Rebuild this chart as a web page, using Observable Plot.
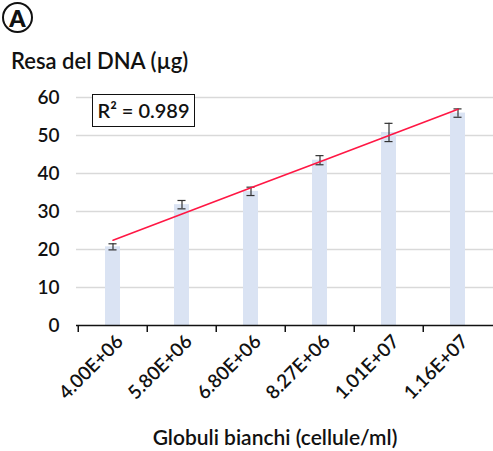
<!DOCTYPE html>
<html><head><meta charset="utf-8">
<script src="https://cdn.jsdelivr.net/npm/d3@7"></script>
<script src="https://cdn.jsdelivr.net/npm/@observablehq/plot@0.6"></script>
<style>
body{margin:0;background:#fff;font-family:Lato,"Noto Sans",sans-serif;}
#wrap{position:relative;width:493px;height:451px;overflow:hidden;}
.abs{position:absolute;color:#111;white-space:nowrap;}
</style></head>
<body><div id="wrap"></div>
<script>
const categories = ["4.00E+06","5.80E+06","6.80E+06","8.27E+06","1.01E+07","1.16E+07"];
const yields = [20.7, 31.8, 35.3, 43.5, 50.8, 55.9];
const errors = [0.8, 1.1, 1.1, 1.2, 2.4, 1.1];
const yTicks = [0,10,20,30,40,50,60];
const r2Label = "R² = 0.989";

const data = categories.map((c,i)=>({c, v:yields[i], e:errors[i], i:i+1}));
// least-squares trend on category index
const n = data.length;
const mx = d3.mean(data, d=>d.i), my = d3.mean(data, d=>d.v);
const slope = d3.sum(data, d=>(d.i-mx)*(d.v-my)) / d3.sum(data, d=>(d.i-mx)**2);
const trend = data.map(d=>({c:d.c, t: my + slope*(d.i-mx)}));

const W = 493, ML = 76, MR = 0;
const P = 0.785;
const step = (W-ML-MR)/n;
const bw = step*(1-P);
const capW = 8;

const chart = Plot.plot({
  width: W, height: 340,
  marginLeft: ML, marginRight: MR, marginTop: 17, marginBottom: 95,
  style: {fontFamily: "Lato, sans-serif", fontSize: "16px", color:"#111", overflow:"visible"},
  x: {domain: categories, paddingInner: P, paddingOuter: P/2, align: 0.5, label: null},
  y: {domain: [0,60], label: null},
  marks: [
    Plot.gridY(yTicks.filter(t=>t>0), {stroke:"#d9d9d9", strokeOpacity:1, strokeWidth:1.5}),
    Plot.barY(data, {x:"c", y:"v", fill:"#dae3f3"}),
    Plot.ruleX(data, {x:"c", y1: d=>d.v-d.e, y2: d=>d.v+d.e, stroke:"#333", strokeWidth:1.2}),
    Plot.tickY(data, {x:"c", y: d=>d.v+d.e, stroke:"#333", strokeWidth:1.2, insetLeft:(bw-capW)/2, insetRight:(bw-capW)/2}),
    Plot.tickY(data, {x:"c", y: d=>d.v-d.e, stroke:"#333", strokeWidth:1.2, insetLeft:(bw-capW)/2, insetRight:(bw-capW)/2}),
    Plot.line(trend, {x:"c", y:"t", stroke:"#ff1744", strokeWidth:1.6}),
    Plot.ruleY([0], {stroke:"#111", strokeWidth:1.5}),
    Plot.axisX({ticks: categories, tickSize:7, dx: -step/2, text: null, stroke:"#111", strokeWidth:1.5}),
    Plot.axisX({ticks: categories, tickSize:0, tickRotate:-45, tickPadding:13, dx: 7, fontSize:19, fontWeight:600}),
    Plot.axisY({ticks: yTicks, tickSize:0, tickPadding:17, fontSize:19, fontWeight:600})
  ]
});
chart.style.position = "absolute";
chart.style.left = "0px";
chart.style.top = "80px";
const wrap = document.getElementById("wrap");
wrap.appendChild(chart);

function add(html, css){ const d=document.createElement("div"); d.className="abs"; d.innerHTML=html; Object.assign(d.style, css); wrap.appendChild(d); return d;}
add("A", {left:"2px", top:"2px", width:"27px", height:"27px", border:"2.5px solid #111", borderRadius:"50%", textAlign:"center", lineHeight:"28px", fontSize:"23px", fontWeight:"800"});
add("Resa del DNA (µg)", {left:"11px", top:"47px", fontSize:"22px", fontWeight:"600"});
add(r2Label, {left:"92px", top:"94px", width:"101px", height:"31px", border:"1.5px solid #111", background:"#fff", textAlign:"center", lineHeight:"31px", fontSize:"20px", fontWeight:"600"});
add("Globuli bianchi (cellule/ml)", {left:"25px", width:"500px", textAlign:"center", top:"424px", fontSize:"21px", fontWeight:"600"});
</script></body></html>
